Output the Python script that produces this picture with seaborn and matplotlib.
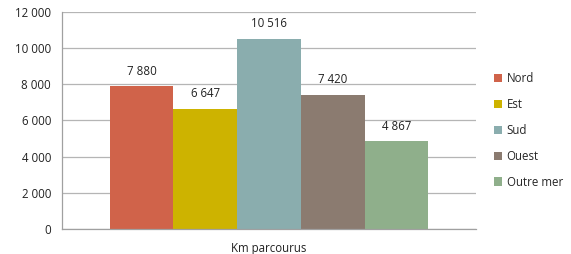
import pandas as pd
import matplotlib
matplotlib.use('Agg')
import matplotlib.pyplot as plt
import seaborn as sns
from matplotlib.ticker import FuncFormatter
from matplotlib.patches import Patch

# Data
regions = ['Nord', 'Est', 'Sud', 'Ouest', 'Outre mer']
km = [7880, 6647, 10516, 7420, 4867]
category = 'Km parcourus'
colors = ['#D0634A', '#CDB300', '#8AADAE', '#8B7B70', '#8FAF8B']

df = pd.DataFrame({'cat': [category] * len(regions), 'region': regions, 'km': km})

sns.set_style('white')
plt.rcParams['font.family'] = ['Open Sans', 'DejaVu Sans']

def fmt(v):
    return f'{int(v):,}'.replace(',', ' ')

fig = plt.figure(figsize=(5.71, 2.54), dpi=100)
ax = fig.add_axes([0.1086, 0.0984, 0.725, 0.8544])

sns.barplot(data=df, x='cat', y='km', hue='region', hue_order=regions,
            palette=colors, width=0.77, saturation=1, legend=False,
            linewidth=0, ax=ax)

for c in ax.containers:
    ax.bar_label(c, labels=[fmt(b.get_height()) for b in c], padding=6,
                 fontsize=8.3, color='#222222')

ax.set_xlim(-0.5, 0.5)
ax.set_ylim(0, 12000)
ax.set_yticks(range(0, 12001, 2000))
ax.yaxis.set_major_formatter(FuncFormatter(lambda v, p: fmt(v)))
ax.grid(axis='y', color='#B5B5B5', linewidth=0.9)
ax.set_axisbelow(True)
ax.set_xlabel('')
ax.set_ylabel('')
for s in ['top', 'right']:
    ax.spines[s].set_visible(False)
for s in ['left', 'bottom']:
    ax.spines[s].set_color('#A0A0A0')
    ax.spines[s].set_linewidth(0.9)
ax.tick_params(axis='both', length=0, labelsize=8.3, colors='#222222', pad=8)
ax.tick_params(axis='x', pad=9)

handles = [Patch(facecolor=c, edgecolor='none') for c in colors]
fig.legend(handles, regions, loc='upper left', bbox_to_anchor=(0.857, 0.735),
           frameon=False, fontsize=8.3, handlelength=0.7, handleheight=0.7,
           handletextpad=0.4, labelspacing=1.12, borderaxespad=0)

fig.savefig('out.png', dpi=100)
